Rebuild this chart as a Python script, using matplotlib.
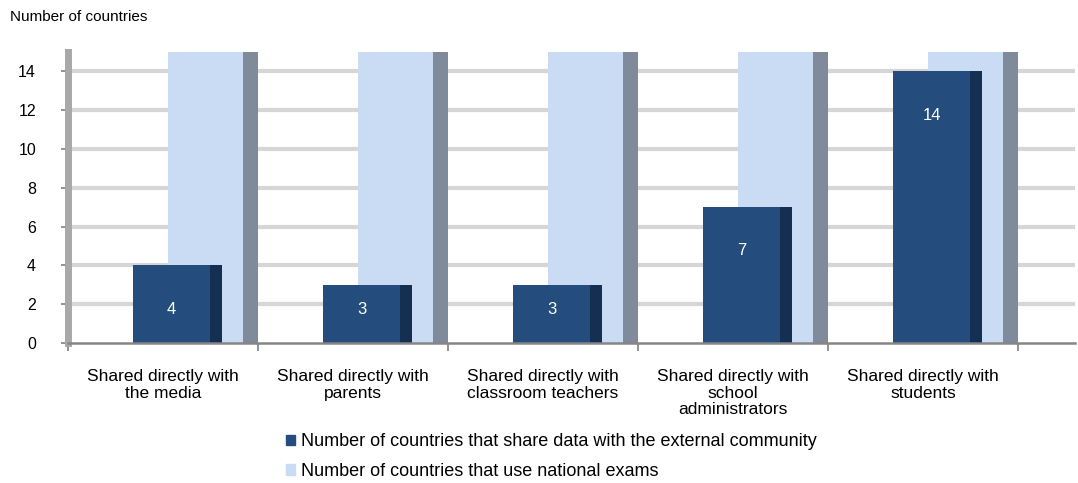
import matplotlib.pyplot as plt
from matplotlib.patches import Patch

plt.rcParams['font.family'] = ['Liberation Sans', 'DejaVu Sans']

categories = [
    "Shared directly with\nthe media",
    "Shared directly with\nparents",
    "Shared directly with\nclassroom teachers",
    "Shared directly with\nschool\nadministrators",
    "Shared directly with\nstudents",
]
share_external = [4, 3, 3, 7, 14]
national_exams = [15, 15, 15, 15, 15]
yticks = [0, 2, 4, 6, 8, 10, 12, 14]

dark_front = '#244C7C'
dark_side = '#152F52'
light_front = '#C9DCF4'
light_side = '#7F8A9B'

fig = plt.figure(figsize=(10.78, 4.83), dpi=100)
ax = fig.add_axes([68 / 1078, 140 / 483, 1007 / 1078, 291 / 483])

x = list(range(len(categories)))

# gridlines on the back wall
for t in yticks[1:]:
    ax.axhline(t, color='#D6D6D6', lw=3, zorder=0)

# national exams bars (back row) with shaded side face
ax.bar([i + 0.026 for i in x], national_exams, width=0.394, align='edge',
       color=light_front, zorder=2)
ax.bar([i + 0.42 for i in x], national_exams, width=0.08, align='edge',
       color=light_side, zorder=2)

# external community bars (front row)
ax.bar([i - 0.158 for i in x], share_external, width=0.405, align='edge',
       color=dark_front, zorder=3)
ax.bar([i + 0.247 for i in x], share_external, width=0.063, align='edge',
       color=dark_side, zorder=3)

for i, v in zip(x, share_external):
    ax.text(i + 0.045, max(v - 2.25, 1.75), str(v), color='white',
            ha='center', va='center', fontsize=12, zorder=4)

ax.set_xlim(-0.5, 4.8)
ax.set_ylim(0, 15)
ax.set_yticks(yticks)
ax.set_xticks(x)
ax.set_xticklabels(categories, fontsize=12.5, linespacing=1.1)
ax.set_xticks([-0.5, 0.5, 1.5, 2.5, 3.5, 4.5], minor=True)
ax.tick_params(axis='x', which='major', length=0, pad=19)
ax.tick_params(axis='x', which='minor', length=6, width=1.2, color='#808080')
ax.tick_params(axis='y', length=5, width=1.2, color='#808080', pad=18,
               labelsize=11.5)

for s in ['top', 'right']:
    ax.spines[s].set_visible(False)
ax.spines['left'].set_color('#A8A8A8')
ax.spines['left'].set_linewidth(5)
ax.spines['bottom'].set_color('#868686')
ax.spines['bottom'].set_linewidth(1.8)
ax.spines['bottom'].set_zorder(5)

fig.text(10 / 1078, 1 - 17 / 483, "Number of countries", fontsize=11,
         ha='left', va='center')

handles = [Patch(color=dark_front), Patch(color=light_front)]
labels = ["Number of countries that share data with the external community",
          "Number of countries that use national exams"]
fig.legend(handles, labels, loc='upper left',
           bbox_to_anchor=(279 / 1078, 1 - 426 / 483), frameon=False,
           fontsize=13, handlelength=0.5, handleheight=0.5,
           handletextpad=0.3, labelspacing=0.7, borderaxespad=0)

fig.savefig('out.png', dpi=100)
